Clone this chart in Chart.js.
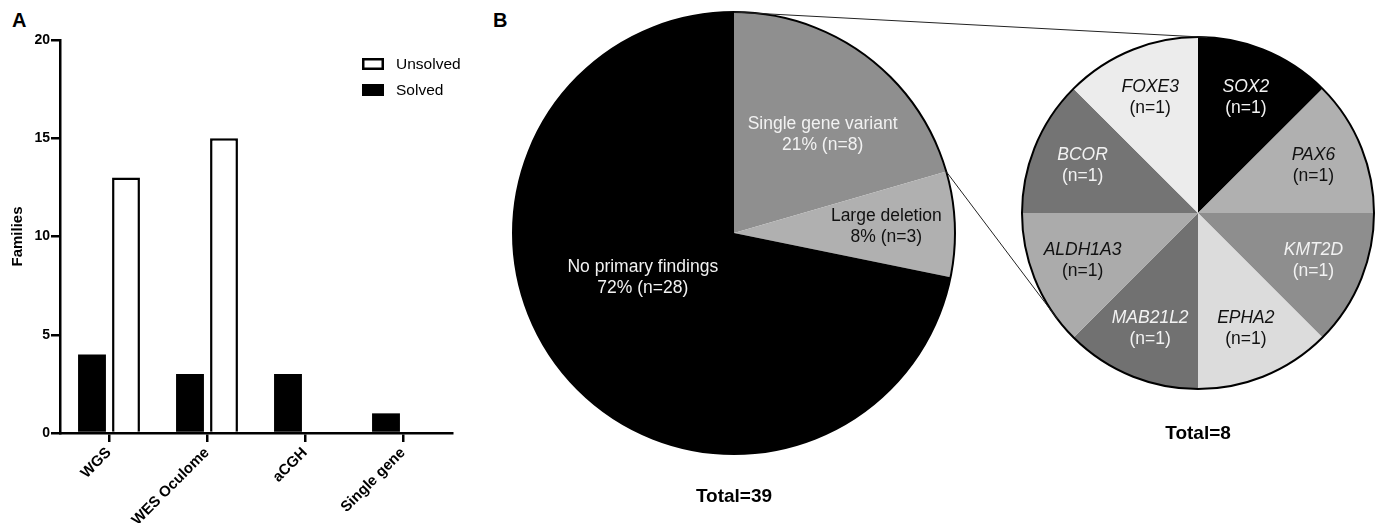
<!DOCTYPE html>
<html>
<head>
<meta charset="utf-8">
<script src="https://cdn.jsdelivr.net/npm/chart.js@4.4.0/dist/chart.umd.min.js"></script>
<style>
  html, body { margin: 0; padding: 0; background: #fff; }
  body { width: 1379px; height: 523px; position: relative; overflow: hidden; }
  .box { position: absolute; }
  .panel { position: absolute; font: bold 20px/20px "Liberation Sans", Arial, sans-serif; color: #000; }
  #links { position: absolute; left: 0; top: 0; pointer-events: none; }
</style>
</head>
<body>
<div class="panel" style="left:12px;top:10px">A</div>
<div class="panel" style="left:493px;top:10px">B</div>
<div class="box" style="left:0;top:0;width:470px;height:523px"><canvas id="barChart"></canvas></div>
<div class="box" style="left:510px;top:9px;width:448px;height:502px"><canvas id="mainPie"></canvas></div>
<div class="box" style="left:1019px;top:34px;width:358px;height:414px"><canvas id="genePie"></canvas></div>
<canvas id="links" width="1379" height="523"></canvas>
<script>
// panel A - families per test
const methods = ['WGS', 'WES Oculome', 'aCGH', 'Single gene'];
const solved = [4, 3, 3, 1];
const unsolved = [13, 15, 0, 0];
const familyTicks = [0, 5, 10, 15, 20];

// panel B - findings in the cohort
const findings = ['Single gene variant', 'Large deletion', 'No primary findings'];
const findingCounts = [8, 3, 28];
const findingColors = ['#8f8f8f', '#b0b0b0', '#000000'];

// genes behind the single gene variants
const genes = ['SOX2', 'PAX6', 'KMT2D', 'EPHA2', 'MAB21L2', 'ALDH1A3', 'BCOR', 'FOXE3'];
const geneCounts = [1, 1, 1, 1, 1, 1, 1, 1];
const geneColors = ['#000000', '#b0b0b0', '#8e8e8e', '#dcdcdc', '#717171', '#ababab', '#747474', '#ececec'];

const FONT = '"Liberation Sans", Arial, sans-serif';
Chart.defaults.font.family = FONT;
Chart.defaults.color = '#000';

const sum = a => a.reduce((s, v) => s + v, 0);
const grey = hex => parseInt(hex.slice(1, 3), 16);

// legend drawn top right inside the plot, Unsolved first
const boxLegend = {
  id: 'boxLegend',
  afterDraw(chart) {
    const { ctx, chartArea } = chart;
    const sets = chart.data.datasets.slice().reverse();
    ctx.save();
    ctx.font = '15.5px ' + FONT;
    ctx.textBaseline = 'middle';
    sets.forEach((ds, i) => {
      const x = chartArea.right - 90;
      const y = chartArea.top + 18 + i * 26;
      ctx.fillStyle = ds.borderColor;
      ctx.fillRect(x, y, 22, 12);
      if (ds.backgroundColor !== ds.borderColor) {
        ctx.fillStyle = ds.backgroundColor;
        ctx.fillRect(x + 2.5, y + 2.5, 17, 7);
      }
      ctx.fillStyle = '#000';
      ctx.fillText(ds.label, x + 34, y + 6.5);
    });
    ctx.restore();
  }
};

// text inside the slices + black outline round the pie
function sliceLabels(lines, radius, turn) {
  return {
    id: 'sliceLabels',
    afterDatasetsDraw(chart) {
      const meta = chart.getDatasetMeta(0);
      const colors = chart.data.datasets[0].backgroundColor;
      const ctx = chart.ctx;
      const first = meta.data[0];
      ctx.save();
      ctx.beginPath();
      ctx.arc(first.x, first.y, first.outerRadius, 0, Math.PI * 2);
      ctx.lineWidth = 2;
      ctx.strokeStyle = '#000';
      ctx.stroke();
      ctx.textAlign = 'center';
      ctx.textBaseline = 'middle';
      meta.data.forEach((arc, i) => {
        const mid = (arc.startAngle + arc.endAngle) / 2 + (turn[i] || 0) * Math.PI / 180;
        const r = arc.outerRadius * radius[i];
        const x = arc.x + r * Math.cos(mid);
        const y = arc.y + r * Math.sin(mid);
        ctx.fillStyle = grey(colors[i]) < 160 ? '#f2f2f2' : '#111';
        const rows = lines(i);
        rows.forEach((row, k) => {
          ctx.font = (row.italic ? 'italic ' : '') + '17.5px ' + FONT;
          ctx.fillText(row.text, x, y + (k - (rows.length - 1) / 2) * 21);
        });
      });
      ctx.restore();
    }
  };
}

new Chart(document.getElementById('barChart'), {
  type: 'bar',
  data: {
    labels: methods,
    datasets: [
      { label: 'Solved', data: solved, backgroundColor: '#000', borderColor: '#000', borderWidth: 0 },
      { label: 'Unsolved', data: unsolved, backgroundColor: '#fff', borderColor: '#000', borderWidth: 2.5 }
    ]
  },
  options: {
    responsive: true,
    maintainAspectRatio: false,
    animation: false,
    events: [],
    layout: { padding: { top: 40, right: 18, left: 0, bottom: 0 } },
    datasets: { bar: { categoryPercentage: 0.694, barPercentage: 0.82 } },
    plugins: { legend: { display: false }, tooltip: { enabled: false } },
    scales: {
      x: {
        grid: { drawOnChartArea: false, offset: false, color: '#000', lineWidth: 2.5, tickLength: 9 },
        border: { display: true, color: '#000', width: 2.5 },
        ticks: { color: '#000', font: { size: 15, weight: 'bold' }, minRotation: 45, maxRotation: 45, padding: 2 },
        afterFit(scale) { scale.height = 90; }
      },
      y: {
        min: familyTicks[0],
        max: familyTicks[familyTicks.length - 1],
        afterBuildTicks(scale) { scale.ticks = familyTicks.map(v => ({ value: v })); },
        grid: { drawOnChartArea: false, color: '#000', lineWidth: 2.5, tickLength: 9 },
        border: { display: true, color: '#000', width: 2.5 },
        ticks: { color: '#000', font: { size: 14, weight: 'bold' }, padding: 1 },
        title: { display: true, text: 'Families', color: '#000', font: { size: 15, weight: 'bold' }, padding: { top: 9, bottom: 0 } },
        afterFit(scale) { scale.width = 60; }
      }
    }
  },
  plugins: [boxLegend]
});

const findingTotal = sum(findingCounts);
const mainPie = new Chart(document.getElementById('mainPie'), {
  type: 'pie',
  data: {
    labels: findings,
    datasets: [{ data: findingCounts, backgroundColor: findingColors, borderWidth: 0, hoverOffset: 0 }]
  },
  options: {
    responsive: true,
    maintainAspectRatio: false,
    animation: false,
    events: [],
    layout: { padding: 3 },
    plugins: {
      legend: { display: false },
      tooltip: { enabled: false },
      title: {
        display: true, position: 'bottom', text: 'Total=' + findingTotal, color: '#000',
        font: { size: 19, weight: 'bold' }, padding: { top: 31, bottom: 0 }
      }
    }
  },
  plugins: [sliceLabels(
    i => [
      { text: findings[i] },
      { text: Math.round(findingCounts[i] / findingTotal * 100) + '% (n=' + findingCounts[i] + ')' }
    ],
    [0.6, 0.69, 0.46], [5, 0, 13]
  )]
});

const genePie = new Chart(document.getElementById('genePie'), {
  type: 'pie',
  data: {
    labels: genes,
    datasets: [{ data: geneCounts, backgroundColor: geneColors, borderWidth: 0, hoverOffset: 0 }]
  },
  options: {
    responsive: true,
    maintainAspectRatio: false,
    animation: false,
    events: [],
    layout: { padding: 3 },
    plugins: {
      legend: { display: false },
      tooltip: { enabled: false },
      title: {
        display: true, position: 'bottom', text: 'Total=' + sum(geneCounts), color: '#000',
        font: { size: 19, weight: 'bold' }, padding: { top: 33, bottom: 0 }
      }
    }
  },
  plugins: [sliceLabels(
    i => [{ text: genes[i], italic: true }, { text: '(n=' + geneCounts[i] + ')' }],
    geneCounts.map(() => 0.71), []
  )]
});

// zoom lines from the single gene slice to the gene pie
function drawLinks() {
  const ctx = document.getElementById('links').getContext('2d');
  const a = mainPie.getDatasetMeta(0).data[0];
  const b = genePie.getDatasetMeta(0).data[0];
  const ra = mainPie.canvas.getBoundingClientRect();
  const rb = genePie.canvas.getBoundingClientRect();
  const ax = ra.left + a.x, ay = ra.top + a.y, R = a.outerRadius;
  const cx = rb.left + b.x, cy = rb.top + b.y, r = b.outerRadius;
  const tangent = (px, py, upper) => {
    const d = Math.hypot(px - cx, py - cy);
    const base = Math.atan2(py - cy, px - cx);
    const al = Math.acos(r / d);
    const t1 = [cx + r * Math.cos(base + al), cy + r * Math.sin(base + al)];
    const t2 = [cx + r * Math.cos(base - al), cy + r * Math.sin(base - al)];
    return (t1[1] < t2[1]) === upper ? t1 : t2;
  };
  const p1 = [ax + R * Math.cos(a.startAngle), ay + R * Math.sin(a.startAngle)];
  const p2 = [ax + R * Math.cos(a.endAngle), ay + R * Math.sin(a.endAngle)];
  ctx.strokeStyle = '#222';
  ctx.lineWidth = 1;
  [[p1, tangent(p1[0], p1[1], true)], [p2, tangent(p2[0], p2[1], false)]].forEach(([s, e]) => {
    ctx.beginPath();
    ctx.moveTo(s[0], s[1]);
    ctx.lineTo(e[0], e[1]);
    ctx.stroke();
  });
}
drawLinks();
</script>
</body>
</html>
